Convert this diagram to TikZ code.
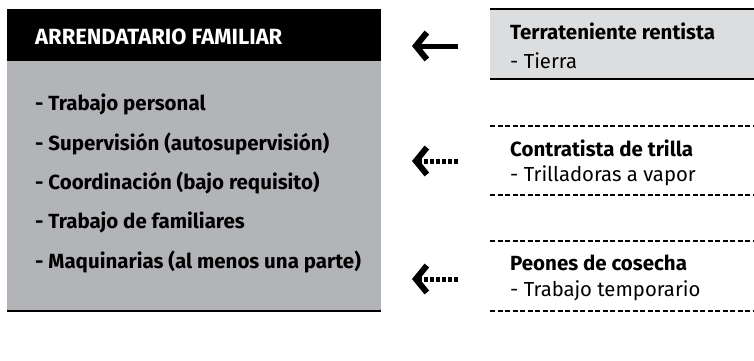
\documentclass[tikz,border=0pt]{standalone}
\usepackage{fontspec}
\setmainfont{Fira Sans}
\usepackage{tikz}
\usetikzlibrary{arrows.meta}

\definecolor{boxgray}{HTML}{B2B4B7}
\definecolor{lightgray}{HTML}{DCDDDE}

\begin{document}
\begin{tikzpicture}
      [
        x=1pt, y=-1pt,
        head/.style={anchor=west, inner sep=0pt, font=\fontsize{22}{26}\selectfont\bfseries},
        item/.style={anchor=west, inner sep=0pt, font=\fontsize{20.5}{24}\selectfont\bfseries},
        role/.style={anchor=west, inner sep=0pt, font=\fontsize{20.5}{24}\selectfont\bfseries},
        plain/.style={anchor=west, inner sep=0pt, font=\fontsize{20.3}{24}\selectfont},
        sep/.style={line width=2pt, dash pattern=on 5pt off 2.5pt},
        tip/.style={line width=5pt, -{Straight Barb[length=11pt, width=27pt, line width=6pt]}},
        dottip/.style={tip, dash pattern=on 4pt off 2pt}
      ]
      \useasboundingbox (0,0) rectangle (754,360);
      % family tenant box
      \fill[boxgray] (7,61) rectangle (381,310);
      \fill[black] (7,9) rectangle (381,61);
      \draw[line width=2.5pt] (7,311) -- (381,311);
      \node [head, text=white] (hdr) at (35,37) {ARRENDATARIO FAMILIAR};
      \foreach \y/\t in {104/Trabajo personal, 144/Supervisión (autosupervisión),
          183/Coordinación (bajo requisito), 222/Trabajo de familiares,
          262/Maquinarias (al menos una parte)} {
          \node [item] (it\y) at (35,\y) {- \t};
      }
      % landowner box
      \fill[lightgray] (490,9) rectangle (754,79);
      \draw[line width=2.5pt] (490,9) -- (754,9);
      \draw[line width=2.5pt] (490,79) -- (754,79);
      \node [role] (land) at (510,31) {Terrateniente rentista};
      \node [plain] (landt) at (510,61) {- Tierra};
      % threshing contractor
      \draw[sep] (490,126) -- (754,126);
      \draw[sep] (490,195) -- (754,195);
      \node [role] (thresh) at (510,148) {Contratista de trilla};
      \node [plain] (thresht) at (510,176) {- Trilladoras a vapor};
      % harvest workers
      \draw[sep] (490,241) -- (754,241);
      \draw[sep] (490,311) -- (754,311);
      \node [role] (peon) at (510,263) {Peones de cosecha};
      \node [plain] (peont) at (510,291) {- Trabajo temporario};
      % arrows
      \coordinate (a1) at (458,46);
      \coordinate (b1) at (412,46);
      \coordinate (a2) at (458,161);
      \coordinate (b2) at (412,161);
      \coordinate (a3) at (458,279);
      \coordinate (b3) at (412,279);
      \draw [tip] (a1) -- (b1);
      \draw [dottip] (a2) -- (b2);
      \draw [dottip] (a3) -- (b3);
\end{tikzpicture}
\end{document}
